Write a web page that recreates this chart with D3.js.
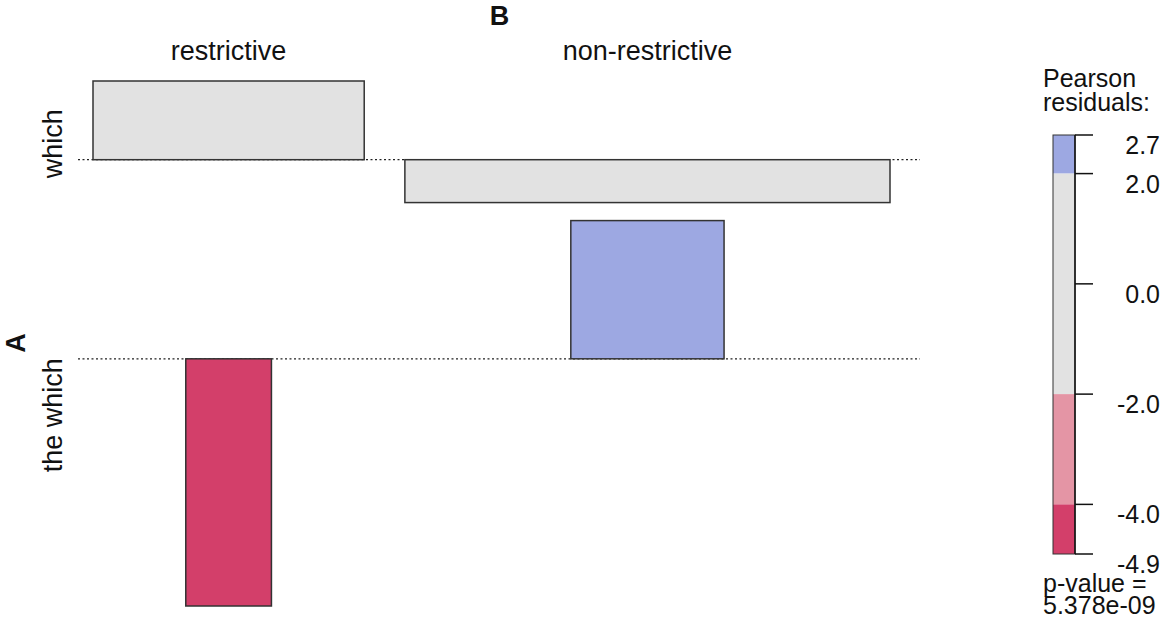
<!DOCTYPE html>
<html>
<head>
<meta charset="utf-8">
<script src="https://cdn.jsdelivr.net/npm/d3@7"></script>
<style>
  html, body { margin: 0; padding: 0; background: #ffffff; }
  svg { display: block; font-family: "Liberation Sans", Arial, sans-serif; }
</style>
</head>
<body>
<svg id="chart" width="1169" height="629"></svg>
<script>
// ---- data ----
const rowVar = "A";
const colVar = "B";
const rowLevels = ["which", "the which"];
const colLevels = ["restrictive", "non-restrictive"];
// Pearson residuals [row][col]
const residuals = [
  [1.56, -0.85],
  [-4.90, 2.74]
];
// expected counts [row][col]
const expected = [
  [300.7, 962.1],
  [30.0, 96.0]
];
const legendTicks = [2.7, 2.0, 0.0, -2.0, -4.0, -4.9];
const legendTickLabels = ["2.7", "2.0", "0.0", "-2.0", "-4.0", "-4.9"];
const legendBands = [
  { from: 2.0, to: 2.7, fill: "#9DA8E2" },
  { from: -2.0, to: 2.0, fill: "#E2E2E2" },
  { from: -4.0, to: -2.0, fill: "#E495A5" },
  { from: -4.9, to: -4.0, fill: "#D33F6A" }
];
const legendTitle = ["Pearson", "residuals:"];
const pValueLines = ["p-value =", "5.378e-09"];

// ---- shading ----
function shade(r) {
  if (r > 4) return "#4A6FE3";
  if (r > 2) return "#9DA8E2";
  if (r < -4) return "#D33F6A";
  if (r < -2) return "#E495A5";
  return "#E2E2E2";
}

const svg = d3.select("#chart");

// ---- horizontal layout (sqrt expected units) ----
const colW = colLevels.map((c, j) => d3.max(rowLevels, (r, i) => Math.sqrt(expected[i][j])));
const gapX = 2.6;
const colStart = [];
let acc = 0;
colW.forEach((w, j) => { colStart.push(acc); acc += w + (j < colW.length - 1 ? gapX : 0); });
const x = d3.scaleLinear().domain([0, acc]).range([93, 890]);
const colCenter = colW.map((w, j) => colStart[j] + w / 2);

// ---- vertical layout (residual units) ----
const posMax = residuals.map(row => Math.max(0, d3.max(row)));
const negMax = residuals.map(row => Math.max(0, -d3.min(row)));
const gapY = 0.357;
const rowTop = [];
let accY = 0;
rowLevels.forEach((r, i) => { rowTop.push(accY); accY += posMax[i] + negMax[i] + (i < rowLevels.length - 1 ? gapY : 0); });
const y = d3.scaleLinear().domain([0, accY]).range([81, 606]);
const baseline = rowLevels.map((r, i) => rowTop[i] + posMax[i]);

// baselines (dotted)
svg.append("g").selectAll("line").data(baseline).join("line")
  .attr("x1", 78).attr("x2", 920)
  .attr("y1", d => y(d)).attr("y2", d => y(d))
  .attr("stroke", "#222").attr("stroke-width", 1.3)
  .attr("stroke-dasharray", "2,2.5");

// cells
const cells = [];
rowLevels.forEach((rl, i) => colLevels.forEach((cl, j) => {
  cells.push({ i, j, r: residuals[i][j], w: Math.sqrt(expected[i][j]) });
}));
svg.append("g").selectAll("rect").data(cells).join("rect")
  .attr("x", d => x(colCenter[d.j] - d.w / 2))
  .attr("width", d => x(colCenter[d.j] + d.w / 2) - x(colCenter[d.j] - d.w / 2))
  .attr("y", d => y(d.r > 0 ? baseline[d.i] - d.r : baseline[d.i]))
  .attr("height", d => y(Math.abs(d.r)) - y(0))
  .attr("fill", d => shade(d.r))
  .attr("stroke", "#333").attr("stroke-width", 1.5);

// column labels
svg.append("g").selectAll("text").data(colLevels).join("text")
  .attr("x", (d, j) => x(colCenter[j]))
  .attr("y", 60)
  .attr("text-anchor", "middle")
  .attr("font-size", 27).attr("fill", "#111")
  .text(d => d);

// column variable
svg.append("text")
  .attr("x", (x.range()[0] + x.range()[1]) / 2 + 8).attr("y", 25)
  .attr("text-anchor", "middle").attr("font-size", 27).attr("font-weight", "bold").attr("fill", "#111")
  .text(colVar);

// row labels
svg.append("g").selectAll("text").data(rowLevels).join("text")
  .attr("transform", (d, i) => `translate(62,${y(rowTop[i] + (posMax[i] + negMax[i]) / 2) + 2}) rotate(-90)`)
  .attr("text-anchor", "middle")
  .attr("font-size", 27).attr("fill", "#111")
  .text(d => d);

// row variable
svg.append("text")
  .attr("transform", `translate(25,343) rotate(-90)`)
  .attr("text-anchor", "middle").attr("font-size", 27).attr("font-weight", "bold").attr("fill", "#111")
  .text(rowVar);

// ---- legend ----
const ly = d3.scaleLinear().domain([-4.9, 2.7]).range([554, 135]);
const lg = svg.append("g");
lg.selectAll("rect.band").data(legendBands).join("rect")
  .attr("class", "band")
  .attr("x", 1053).attr("width", 22)
  .attr("y", d => ly(d.to)).attr("height", d => ly(d.from) - ly(d.to))
  .attr("fill", d => d.fill);
lg.append("rect")
  .attr("x", 1053).attr("width", 22)
  .attr("y", ly(2.7)).attr("height", ly(-4.9) - ly(2.7))
  .attr("fill", "none").attr("stroke", "#333").attr("stroke-width", 1);
lg.append("line")
  .attr("x1", 1075).attr("x2", 1075)
  .attr("y1", ly(2.7)).attr("y2", ly(-4.9))
  .attr("stroke", "#111").attr("stroke-width", 1.5);
lg.selectAll("line.tick").data(legendTicks).join("line")
  .attr("class", "tick")
  .attr("x1", 1075).attr("x2", 1093)
  .attr("y1", d => ly(d)).attr("y2", d => ly(d))
  .attr("stroke", "#111").attr("stroke-width", 1.5);
lg.selectAll("text.tl").data(legendTicks).join("text")
  .attr("class", "tl")
  .attr("x", 1160)
  .attr("y", d => ly(d) + 19)
  .attr("text-anchor", "end")
  .attr("font-size", 25).attr("fill", "#111")
  .text((d, k) => legendTickLabels[k]);
lg.selectAll("text.title").data(legendTitle).join("text")
  .attr("class", "title")
  .attr("x", 1043).attr("y", (d, k) => 87 + k * 24)
  .attr("font-size", 25).attr("fill", "#111")
  .text(d => d);
lg.selectAll("text.pv").data(pValueLines).join("text")
  .attr("class", "pv")
  .attr("x", 1043).attr("y", (d, k) => 592 + k * 22)
  .attr("font-size", 25).attr("fill", "#111")
  .text(d => d);
</script>
</body>
</html>
